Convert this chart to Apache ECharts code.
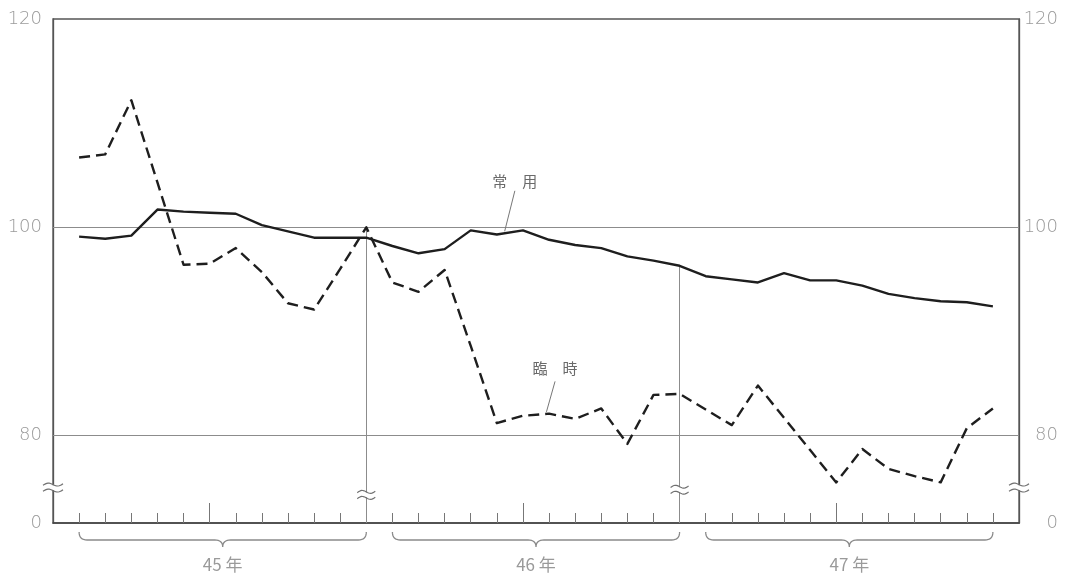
<!DOCTYPE html>
<html>
<head>
<meta charset="utf-8">
<style>
html,body{margin:0;padding:0;background:#fff;}
#c{width:1071px;height:577px;}
</style>
<script src="https://cdn.jsdelivr.net/npm/echarts@6.0.0/dist/echarts.min.js"></script>
</head>
<body>
<div id="c"></div>
<script>
// ---------------- data ----------------
const yearLabels = ['45年', '46年', '47年'];
const monthsPerYear = 12;
// 常用 (solid line), monthly 45年1月 .. 47年12月
const joyo = [
  99.1, 98.9, 99.2, 101.7, 101.5, 101.4, 101.3, 100.2, 99.6, 99.0, 99.0, 99.0,
  98.2, 97.5, 97.9, 99.7, 99.3, 99.7, 98.8, 98.3, 98.0, 97.2, 96.8, 96.3,
  95.3, 95.0, 94.7, 95.6, 94.9, 94.9, 94.4, 93.6, 93.2, 92.9, 92.8, 92.4
];
// 臨時 (dashed line)
const rinji = [
  106.7, 107.0, 112.2, 104.3, 96.4, 96.5, 98.0, 95.7, 92.7, 92.1, 96.0, 100.0,
  94.7, 93.8, 95.9, 88.6, 81.2, 81.9, 82.1, 81.6, 82.6, 79.2, 83.9, 84.0,
  82.5, 81.0, 84.8, 81.7, 78.6, 75.5, 78.7, 76.8, 76.1, 75.5, 80.7, 82.6
];
const seriesNames = ['常　用', '臨　時'];
const yTickValues = [80, 100, 120];
const brokenAxisLabel = '0';

// ---------------- helpers ----------------
const Y_MIN = 71.6;
const Y_MAX = 120;
const nMonths = joyo.length;
const monthIdx = Array.from({length: nMonths}, (_, i) => i);
const midYearTicks = yearLabels.map((_, k) => k * monthsPerYear + 5);
const yearEnds = yearLabels.slice(0, -1).map((_, k) => k * monthsPerYear + monthsPerYear - 1);
const toPairs = arr => arr.map((v, i) => [i, v]);
const interp = (arr, t) => { const i = Math.floor(t), f = t - i; return arr[i] + (arr[i + 1] - arr[i]) * f; };

const NUM_FONT = "'DejaVu Sans', 'Liberation Sans', sans-serif";
const JP_FONT = "'Noto Sans CJK JP', 'Noto Sans CJK SC', sans-serif";
const GRAY_TXT = '#9a9a9a';

const chart = echarts.init(document.getElementById('c'), null, {renderer: 'canvas'});

const yAxisBase = (pos) => ({
  type: 'value', min: Y_MIN, max: Y_MAX, position: pos,
  axisLine: {show: true, onZero: false, lineStyle: {color: '#555', width: 1.3}},
  axisTick: {show: false},
  splitLine: {show: false},
  axisLabel: {
    customValues: [Y_MIN].concat(yTickValues),
    formatter: v => (v < yTickValues[0] ? brokenAxisLabel : String(Math.round(v))),
    color: GRAY_TXT, fontSize: 18, fontWeight: 200, fontFamily: NUM_FONT,
    margin: pos === 'left' ? 11 : 39,
    align: 'right'
  }
});

const option = {
  animation: false,
  backgroundColor: '#fff',
  grid: {left: 53, right: 52, top: 19, bottom: 54, show: true, borderColor: '#555', borderWidth: 1.3, backgroundColor: 'transparent'},
  xAxis: [
    {
      type: 'value', min: -1, max: nMonths, position: 'bottom',
      axisLine: {show: true, onZero: false, lineStyle: {color: '#444', width: 1.5}},
      axisTick: {show: true, inside: true, length: 10, customValues: monthIdx, lineStyle: {color: '#777', width: 1}},
      axisLabel: {show: false}, splitLine: {show: false}
    },
    {
      type: 'value', min: -1, max: nMonths, position: 'bottom',
      axisLine: {show: false, onZero: false},
      axisTick: {show: true, inside: true, length: 20, customValues: midYearTicks, lineStyle: {color: '#777', width: 1}},
      axisLabel: {show: false}, splitLine: {show: false}
    }
  ],
  yAxis: [yAxisBase('left'), yAxisBase('right')],
  series: [
    {
      name: seriesNames[0], type: 'line', xAxisIndex: 0, yAxisIndex: 0, z: 5,
      data: toPairs(joyo), symbol: 'none', silent: true,
      lineStyle: {color: '#1e1e1e', width: 2.4, join: 'round'},
      markLine: {
        silent: true, symbol: 'none', z: 1, label: {show: false},
        lineStyle: {color: '#8c8c8c', width: 1, type: 'solid'},
        data: yTickValues.filter(v => v < Y_MAX).map(v => ({yAxis: v})).concat(
          yearEnds.map(i => [{coord: [i, Y_MIN]}, {coord: [i, Math.max(joyo[i], rinji[i])]}])
        )
      }
    },
    {
      name: seriesNames[1], type: 'line', xAxisIndex: 0, yAxisIndex: 0, z: 5,
      data: toPairs(rinji), symbol: 'none', silent: true,
      lineStyle: {color: '#1e1e1e', width: 2.4, type: [11, 6], join: 'round'}
    }
  ]
};
chart.setOption(option);

// ---------------- annotations (positions via the chart's own scales) ----------------
const px = (x, y) => chart.convertToPixel({xAxisIndex: 0, yAxisIndex: 0}, [x, y]);
const g = [];
const axisY = px(0, Y_MIN)[1];

function quad(p0, c, p1, n) {
  const pts = [];
  for (let i = 0; i <= n; i++) {
    const t = i / n, u = 1 - t;
    pts.push([u * u * p0[0] + 2 * u * t * c[0] + t * t * p1[0], u * u * p0[1] + 2 * u * t * c[1] + t * t * p1[1]]);
  }
  return pts;
}

// braces + year labels
yearLabels.forEach((lab, k) => {
  const x0 = px(k * monthsPerYear, Y_MIN)[0];
  const x1 = px(k * monthsPerYear + monthsPerYear - 1, Y_MIN)[0];
  const xc = (x0 + x1) / 2;
  const y0 = axisY + 9, y1 = axisY + 17, y2 = axisY + 24, r = 8;
  const pts = []
    .concat(quad([x0, y0], [x0, y1], [x0 + r, y1], 8))
    .concat(quad([xc - r, y1], [xc, y1], [xc, y2], 8))
    .concat(quad([xc, y2], [xc, y1], [xc + r, y1], 8))
    .concat(quad([x1 - r, y1], [x1, y1], [x1, y0], 8));
  g.push({
    type: 'polyline', z: 100, silent: true,
    shape: {points: pts},
    style: {stroke: '#8a8a8a', lineWidth: 1.3, fill: null}
  });
  g.push({
    type: 'text', z: 100, silent: true, x: xc, y: axisY + 42,
    style: {text: lab.replace(/(\d+)/, '$1 '), fill: GRAY_TXT, font: `17px ${JP_FONT}`, align: 'center', verticalAlign: 'middle'}
  });
});

// axis break marks
function breakMark(cx, cy, halfW) {
  g.push({type: 'rect', z: 100, silent: true, shape: {x: cx - 3, y: cy - 2.5, width: 6, height: 5}, style: {fill: '#fff'}});
  [-3, 3].forEach(dy => {
    const pts = [];
    for (let i = 0; i <= 16; i++) {
      const t = i / 16;
      const x = cx - halfW + 2 * halfW * t;
      pts.push([x, cy + dy - 1.8 * Math.sin(t * Math.PI * 2) + (t - 0.5) * -1.5]);
    }
    g.push({type: 'polyline', z: 101, silent: true, shape: {points: pts},
      style: {stroke: '#707070', lineWidth: 1.2, fill: null}});
  });
}
const bl = px(-1, 75.0), br = px(nMonths, 75.0);
breakMark(bl[0], bl[1], 10);
breakMark(br[0], br[1], 10);
yearEnds.forEach((i, k) => { const p = px(i, k === 0 ? 74.3 : 74.8); breakMark(p[0], p[1], 9); });

// series labels with leader lines
const notes = [
  {text: seriesNames[0], arr: joyo, tipX: 16.3, textAt: [16.69, 104.45], lineFrom: [16.69, 103.5]},
  {text: seriesNames[1], arr: rinji, tipX: 17.9, textAt: [18.23, 86.5], lineFrom: [18.23, 85.2]}
];
notes.forEach(n => {
  const t = px(n.textAt[0], n.textAt[1]);
  const a = px(n.lineFrom[0], n.lineFrom[1]);
  const b = px(n.tipX, interp(n.arr, n.tipX));
  g.push({type: 'text', z: 100, silent: true, x: t[0], y: t[1],
    style: {text: n.text, fill: '#6a6a6a', font: `15px ${JP_FONT}`, align: 'center', verticalAlign: 'middle'}});
  g.push({type: 'line', z: 100, silent: true, shape: {x1: a[0], y1: a[1], x2: b[0], y2: b[1] - 2},
    style: {stroke: '#777', lineWidth: 1}});
});

chart.setOption({graphic: g});
</script>
</body>
</html>
